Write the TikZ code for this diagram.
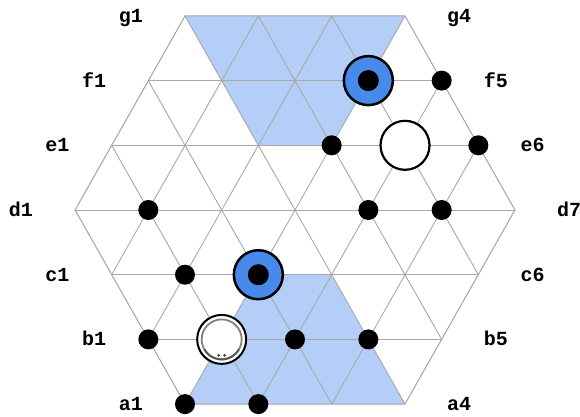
\documentclass[tikz,border=0pt]{standalone}
\usepackage{fontspec}
\setmonofont{Liberation Mono}
\usetikzlibrary{positioning}
\definecolor{ZoneBlue}{RGB}{180,206,247}
\definecolor{PieceBlue}{RGB}{72,138,235}
\definecolor{GridGray}{RGB}{168,168,168}

\begin{document}
\begin{tikzpicture}[x=36.67pt, y=64.7pt,
    gridline/.style={draw=GridGray, line width=0.9pt},
    stone/.style={circle, fill=black, inner sep=0pt, minimum size=20pt},
    bluepiece/.style={circle, draw=black, fill=PieceBlue, line width=2.5pt, inner sep=0pt, minimum size=49pt},
    whitepiece/.style={circle, draw=black, fill=white, line width=2.2pt, inner sep=0pt, minimum size=49pt},
    rowlabel/.style={font=\ttfamily\bfseries\fontsize{20}{20}\selectfont, inner sep=0pt, text height=13pt, text depth=0pt}]
    \useasboundingbox (-8.045,-3.199) rectangle (7.772,3.246);

    % cells of the board
    \foreach \r/\y/\n in {a/-3/4, b/-2/5, c/-1/6, d/0/7, e/1/6, f/2/5, g/3/4} {
        \foreach \i in {1,...,\n} {
            \coordinate (\r\i) at ({2*\i-1-\n}, \y);
        }
    }

    % shaded zones
    \fill[ZoneBlue] (g1) -- (g4) -- (e4) -- (e3) -- cycle;
    \fill[ZoneBlue] (a1) -- (a4) -- (c4) -- (c3) -- cycle;

    % grid
    \begin{scope}
        \clip (a1) -- (a4) -- (d7) -- (g4) -- (g1) -- (d1) -- cycle;
        \foreach \y in {-3,...,3} {
            \draw[gridline] (-7,\y) -- (7,\y);
        }
        \foreach \c in {-6,-4,...,6} {
            \draw[gridline] (\c-3,-3) -- (\c+3,3);
            \draw[gridline] (\c+3,-3) -- (\c-3,3);
        }
    \end{scope}
    \draw[gridline] (a1) -- (a4) -- (d7) -- (g4) -- (g1) -- (d1) -- cycle;

    % stones
    \foreach \p in {a1,a2,b1,b3,b4,c2,d2,d5,d6,e4,e6,f5} {
        \node[stone] (s\p) at (\p) {};
    }
    \node[bluepiece] (pc3) at (c3) {};
    \node[stone, minimum size=21pt] (kc3) at (pc3) {};
    \node[bluepiece] (pf4) at (f4) {};
    \node[stone, minimum size=21pt] (kf4) at (pf4) {};
    \node[whitepiece] (pe5) at (e5) {};
    \node[whitepiece, line width=2pt] (pb2) at (b2) {};
    \draw[gray, line width=1.8pt] (pb2.center) circle (20pt);
    \draw[black!65, line width=2pt] ([shift={(210:20pt)}]pb2.center) arc (210:330:20pt);
    \fill[black!70] ([shift={(-3pt,-16pt)}]pb2.center) circle (1.6pt);
    \fill[black!70] ([shift={(3pt,-16pt)}]pb2.center) circle (1.6pt);

    % row labels
    \foreach \r/\n in {a/4, b/5, c/6, d/7, e/6, f/5, g/4} {
        \node[rowlabel, left=42pt of \r1] (l\r1) {\r1};
        \node[rowlabel, right=42pt of \r\n] (l\r\n) {\r\n};
    }
\end{tikzpicture}
\end{document}
